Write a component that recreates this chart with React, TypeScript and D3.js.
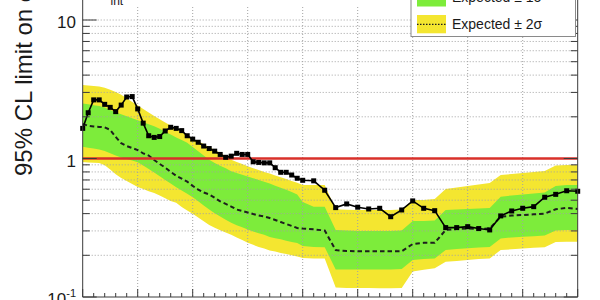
import React, { useEffect } from 'react';
import * as d3 from 'd3';

// Higgs-like mass points (GeV): 5 GeV steps up to 300, then 10 GeV steps
const massPoints = [
  100, 105, 110, 115, 120, 125, 130, 135, 140, 145,
  150, 155, 160, 165, 170, 175, 180, 185, 190, 195,
  200, 205, 210, 215, 220, 225, 230, 235, 240, 245,
  250, 255, 260, 265, 270, 275, 280, 285, 290, 295,
  300, 310, 320, 330, 340, 350, 360, 370, 380, 390,
  400, 410, 420, 430, 440, 450, 460, 470, 480, 490,
  500, 510, 520, 530, 540, 550,
];

const observed = [
  1.65, 2.14, 2.65, 2.65, 2.46, 2.34, 2.18, 2.43, 2.78, 2.8,
  2.28, 1.8, 1.46, 1.42, 1.44, 1.58, 1.68, 1.65, 1.59, 1.46,
  1.38, 1.31, 1.23, 1.18, 1.13, 1.07, 1.02, 1.04, 1.09, 1.07,
  1.07, 0.947, 0.937, 0.93, 0.93, 0.858, 0.795, 0.795, 0.76, 0.72,
  0.696, 0.69, 0.59, 0.442, 0.47, 0.445, 0.432, 0.437, 0.38, 0.425,
  0.494, 0.437, 0.42, 0.317, 0.317, 0.322, 0.312, 0.305, 0.385, 0.418,
  0.437, 0.449, 0.525, 0.551, 0.585, 0.58,
];

const expected = [
  1.78, 1.72, 1.7, 1.69, 1.68, 1.61, 1.43, 1.29, 1.23, 1.19,
  1.15, 1.09, 1.05, 0.975, 0.913, 0.86, 0.8, 0.75, 0.715, 0.68,
  0.634, 0.597, 0.568, 0.55, 0.52, 0.49, 0.47, 0.45, 0.428, 0.418,
  0.408, 0.397, 0.388, 0.381, 0.372, 0.36, 0.348, 0.337, 0.326, 0.315,
  0.312, 0.308, 0.302, 0.218, 0.215, 0.214, 0.214, 0.214, 0.214, 0.214,
  0.241, 0.246, 0.246, 0.305, 0.31, 0.313, 0.31, 0.313, 0.38, 0.387,
  0.391, 0.395, 0.4, 0.43, 0.44, 0.432,
];

const exp2Up = [
  3.4, 3.37, 3.34, 3.31, 3.24, 3.13, 3.02, 2.88, 2.72, 2.56,
  2.42, 2.28, 2.15, 2.03, 1.92, 1.82, 1.73, 1.64, 1.55, 1.47,
  1.39, 1.33, 1.27, 1.21, 1.15, 1.1, 1.04, 0.98, 0.945, 0.911,
  0.879, 0.851, 0.826, 0.8, 0.778, 0.754, 0.732, 0.711, 0.688, 0.668,
  0.644, 0.644, 0.644, 0.43, 0.427, 0.425, 0.425, 0.425, 0.425, 0.429,
  0.502, 0.502, 0.51, 0.602, 0.618, 0.633, 0.649, 0.666, 0.76, 0.773,
  0.786, 0.799, 0.812, 0.89, 0.898, 0.898,
];

const exp1Up = [
  2.5, 2.46, 2.42, 2.39, 2.33, 2.24, 2.16, 2.09, 2.02, 1.95,
  1.89, 1.83, 1.77, 1.71, 1.64, 1.56, 1.49, 1.42, 1.36, 1.3,
  1.21, 1.13, 1.05, 0.98, 0.927, 0.888, 0.85, 0.808, 0.785, 0.763,
  0.742, 0.72, 0.7, 0.68, 0.659, 0.635, 0.615, 0.594, 0.573, 0.55,
  0.486, 0.449, 0.449, 0.305, 0.302, 0.3, 0.3, 0.3, 0.3, 0.302,
  0.354, 0.354, 0.357, 0.425, 0.429, 0.432, 0.436, 0.44, 0.53, 0.541,
  0.549, 0.558, 0.568, 0.633, 0.644, 0.644,
];

const exp1Down = [
  1.215, 1.197, 1.179, 1.162, 1.133, 1.09, 1.051, 1.018, 0.993, 0.969,
  0.941, 0.889, 0.839, 0.791, 0.745, 0.7, 0.659, 0.621, 0.587, 0.556,
  0.525, 0.491, 0.458, 0.428, 0.402, 0.381, 0.361, 0.343, 0.33, 0.319,
  0.307, 0.297, 0.288, 0.281, 0.271, 0.266, 0.261, 0.255, 0.25, 0.245,
  0.233, 0.23, 0.229, 0.158, 0.158, 0.158, 0.158, 0.158, 0.158, 0.159,
  0.185, 0.188, 0.19, 0.218, 0.222, 0.225, 0.228, 0.23, 0.265, 0.269,
  0.272, 0.275, 0.278, 0.302, 0.305, 0.305,
];

const exp2Down = [
  0.943, 0.937, 0.931, 0.926, 0.892, 0.832, 0.769, 0.723, 0.687, 0.655,
  0.623, 0.602, 0.581, 0.564, 0.54, 0.516, 0.494, 0.479, 0.446, 0.422,
  0.399, 0.375, 0.352, 0.331, 0.316, 0.303, 0.292, 0.281, 0.269, 0.258,
  0.246, 0.238, 0.23, 0.224, 0.217, 0.213, 0.208, 0.204, 0.2, 0.196,
  0.191, 0.19, 0.19, 0.117, 0.116, 0.116, 0.116, 0.1155, 0.1155, 0.116,
  0.153, 0.157, 0.161, 0.18, 0.182, 0.185, 0.188, 0.19, 0.218, 0.221,
  0.224, 0.227, 0.229, 0.25, 0.251, 0.251,
];

const yMajorTicks = [0.1, 1, 10];
const yMajorLabels = [['10', '-1'], ['1', ''], ['10', '']];
const xMajorTicks = [100, 150, 200, 250, 300, 350, 400, 450, 500, 550];
const referenceLevel = 1;

const FONT = '"Liberation Sans", Arial, Helvetica, sans-serif';
const YELLOW = '#f4e630';
const GREEN = '#7dec3b';

export default function App() {
  useEffect(() => {
    document.body.style.margin = '0';
  }, []);

  const x0 = 82.7;
  const x1 = 577.7;
  const yBottom = 297;
  const x = d3.scaleLinear().domain([100, 550]).range([x0, x1]);
  const y = d3.scaleLog().domain([0.1, 10]).range([yBottom, 20]);

  const idx = d3.range(massPoints.length);
  const band = (lo: number[], hi: number[]) =>
    d3
      .area<number>()
      .x((i) => x(massPoints[i]))
      .y0((i) => y(lo[i]))
      .y1((i) => y(hi[i]))(idx) || '';
  const line = (vals: number[]) =>
    d3
      .line<number>()
      .x((i) => x(massPoints[i]))
      .y((i) => y(vals[i]))(idx) || '';

  const yGrid = y.ticks().filter((v) => v > 0.1001);
  const yMinor = y.ticks().filter((v) => !yMajorTicks.some((m) => Math.abs(m - v) < 1e-9));
  const xMinor = x.ticks(45).filter((v) => !xMajorTicks.includes(v));

  return (
    <svg
      width={600}
      height={300}
      style={{ position: 'fixed', left: 0, top: 0, background: '#fff', display: 'block' }}
      fontFamily={FONT}
    >
      <defs>
        <clipPath id="plotClip">
          <rect x={x0} y={-50} width={x1 - x0} height={yBottom + 50} />
        </clipPath>
      </defs>
      <rect x={0} y={0} width={600} height={300} fill="#fff" />

      <g clipPath="url(#plotClip)">
        <path d={band(exp2Down, exp2Up)} fill={YELLOW} stroke="none" />
        <path d={band(exp1Down, exp1Up)} fill={GREEN} stroke="none" />
      </g>

      {/* grid */}
      <g stroke="#a2a2a2" strokeWidth={1} strokeDasharray="1,2">
        {xMajorTicks.slice(1, -1).map((v) => (
          <line key={'gx' + v} x1={x(v)} x2={x(v)} y1={-5} y2={yBottom} />
        ))}
        {yGrid.map((v) => (
          <line key={'gy' + v} x1={x0} x2={x1} y1={y(v)} y2={y(v)} />
        ))}
      </g>

      {/* expected median */}
      <path
        d={line(expected)}
        fill="none"
        stroke="#1e1e1e"
        strokeWidth={2}
        strokeDasharray="4.5,3"
      />

      {/* reference level */}
      <line
        x1={x0}
        x2={x1}
        y1={y(referenceLevel)}
        y2={y(referenceLevel)}
        stroke="#d9302a"
        strokeWidth={2.6}
      />

      {/* observed */}
      <path d={line(observed)} fill="none" stroke="#000" strokeWidth={1.6} />
      {idx.map((i) => (
        <rect
          key={'m' + i}
          x={x(massPoints[i]) - 2.5}
          y={y(observed[i]) - 2.5}
          width={5}
          height={5}
          fill="#000"
        />
      ))}

      {/* frame */}
      <g stroke="#3a3a3a" strokeWidth={1} fill="none">
        <line x1={x0} x2={x0} y1={-5} y2={yBottom} />
        <line x1={x1} x2={x1} y1={-5} y2={yBottom} />
        <line x1={x0} x2={x1} y1={yBottom} y2={yBottom} />
      </g>

      {/* ticks */}
      <g stroke="#3a3a3a" strokeWidth={1}>
        {yMajorTicks.map((v) => (
          <g key={'yM' + v}>
            <line x1={x0} x2={x0 + 14} y1={y(v)} y2={y(v)} />
            <line x1={x1} x2={x1 - 14} y1={y(v)} y2={y(v)} />
          </g>
        ))}
        {yMinor.map((v) => (
          <g key={'ym' + v}>
            <line x1={x0} x2={x0 + 7} y1={y(v)} y2={y(v)} />
            <line x1={x1} x2={x1 - 7} y1={y(v)} y2={y(v)} />
          </g>
        ))}
        {xMajorTicks.map((v) => (
          <line key={'xM' + v} x1={x(v)} x2={x(v)} y1={yBottom} y2={yBottom - 8} />
        ))}
        {xMinor.map((v) => (
          <line key={'xm' + v} x1={x(v)} x2={x(v)} y1={yBottom} y2={yBottom - 4} />
        ))}
      </g>

      {/* y tick labels */}
      {yMajorTicks.map((v, k) => (
        <text
          key={'yl' + v}
          x={76}
          y={y(v) + 8}
          fontSize={17}
          textAnchor="end"
          fill="#1a1a1a"
        >
          {yMajorLabels[k][0]}
          {yMajorLabels[k][1] ? (
            <tspan fontSize={11} dy={-8}>
              {yMajorLabels[k][1]}
            </tspan>
          ) : null}
        </text>
      ))}

      {/* y axis title */}
      <text transform="translate(32,176) rotate(-90)" fontSize={24} fill="#1a1a1a">
        95% CL limit on σ/σ
        <tspan fontSize={16} dy={4}>
          SM
        </tspan>
      </text>

      {/* header pave (mostly cut off) */}
      <rect x={84} y={-10} width={326} height={16.5} fill="#fff" />
      <text x={101} y={-2} fontSize={17} fill="#1a1a1a">
        L
        <tspan fontSize={12} dy={7}>
          int
        </tspan>
        <tspan dy={-7}> = 4.7 fb</tspan>
      </text>

      {/* legend */}
      <rect x={411} y={-20} width={164.5} height={56.5} fill="#fff" stroke="#8a8a8a" strokeWidth={1} />
      <rect x={417} y={-12} width={29} height={18.5} fill={GREEN} />
      <text x={452} y={1.5} fontSize={14} fill="#1a1a1a">
        Expected ± 1σ
      </text>
      <rect x={417} y={15} width={29} height={18.3} fill={YELLOW} />
      <line
        x1={417}
        x2={446}
        y1={24.3}
        y2={24.3}
        stroke="#1e1e1e"
        strokeWidth={1.3}
        strokeDasharray="1.5,1.5"
      />
      <text x={452} y={28.5} fontSize={14} fill="#1a1a1a">
        Expected ± 2σ
      </text>
    </svg>
  );
}
